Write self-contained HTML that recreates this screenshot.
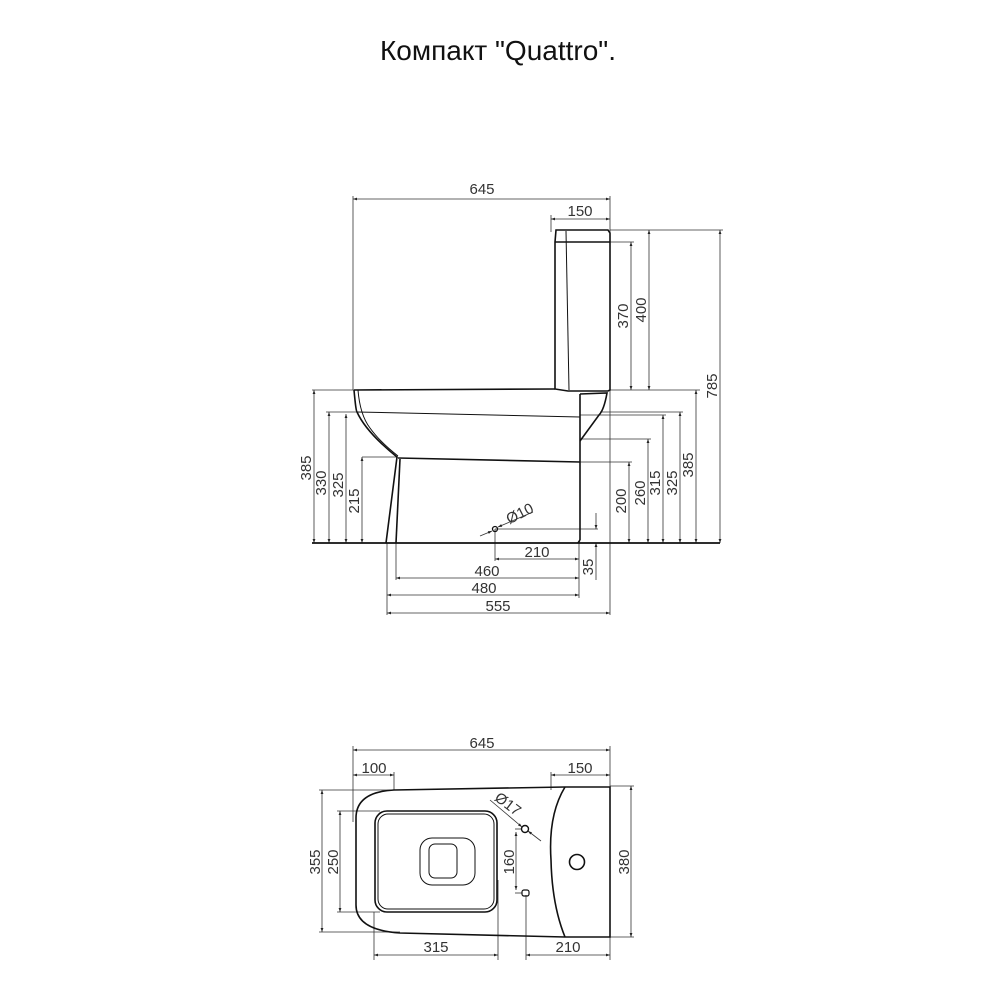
<!DOCTYPE html>
<html><head><meta charset="utf-8"><style>
html,body{margin:0;padding:0;background:#fff;}
svg{display:block;}
.t{font-family:"Liberation Sans",sans-serif;font-size:15px;fill:#333;}
.d{stroke:#333;stroke-width:0.8;fill:none;}
.o{stroke:#111;stroke-width:1.6;fill:none;}
.o2{stroke:#111;stroke-width:1;fill:none;}
</style></head><body>
<svg width="1000" height="1000" viewBox="0 0 1000 1000" xmlns="http://www.w3.org/2000/svg">
<defs>
<marker id="a" viewBox="0 0 10 10" refX="10" refY="5" markerWidth="7" markerHeight="5" orient="auto-start-reverse"><path d="M0,1.5 L10,5 L0,8.5z" fill="#222"/></marker>
</defs>
<text x="498" y="60" text-anchor="middle" style="font-family:'Liberation Sans',sans-serif;font-size:28px;fill:#111">Компакт "Quattro".</text>

<!-- SIDE VIEW -->
<g class="d">
<line x1="353" y1="199" x2="610" y2="199" marker-start="url(#a)" marker-end="url(#a)"/>
<line x1="353" y1="196" x2="353" y2="390"/>
<line x1="610" y1="196" x2="610" y2="615"/>
<line x1="551" y1="219" x2="610" y2="219" marker-start="url(#a)" marker-end="url(#a)"/>
<line x1="551" y1="215" x2="551" y2="232"/>
<line x1="610" y1="230" x2="723" y2="230"/>
<line x1="610" y1="242" x2="634" y2="242"/>
<line x1="631" y1="242" x2="631" y2="390" marker-start="url(#a)" marker-end="url(#a)"/>
<line x1="649" y1="230" x2="649" y2="390" marker-start="url(#a)" marker-end="url(#a)"/>
<line x1="720" y1="230" x2="720" y2="543" marker-start="url(#a)" marker-end="url(#a)"/>
<line x1="610" y1="390" x2="700" y2="390"/>
<line x1="696" y1="390" x2="696" y2="543" marker-start="url(#a)" marker-end="url(#a)"/>
<line x1="600" y1="412" x2="683" y2="412"/>
<line x1="680" y1="412" x2="680" y2="543" marker-start="url(#a)" marker-end="url(#a)"/>
<line x1="580" y1="415" x2="666" y2="415"/>
<line x1="663" y1="415" x2="663" y2="543" marker-start="url(#a)" marker-end="url(#a)"/>
<line x1="582" y1="439" x2="651" y2="439"/>
<line x1="648" y1="439" x2="648" y2="543" marker-start="url(#a)" marker-end="url(#a)"/>
<line x1="580" y1="462" x2="632" y2="462"/>
<line x1="629" y1="462" x2="629" y2="543" marker-start="url(#a)" marker-end="url(#a)"/>
<line x1="312" y1="390" x2="355" y2="390"/>
<line x1="314" y1="390" x2="314" y2="543" marker-start="url(#a)" marker-end="url(#a)"/>
<line x1="326" y1="412" x2="357" y2="412"/>
<line x1="329" y1="412" x2="329" y2="543" marker-start="url(#a)" marker-end="url(#a)"/>
<line x1="346" y1="414" x2="346" y2="543" marker-start="url(#a)" marker-end="url(#a)"/>
<line x1="362" y1="457" x2="398" y2="457"/>
<line x1="362" y1="457" x2="362" y2="543" marker-start="url(#a)" marker-end="url(#a)"/>
<line x1="387" y1="543" x2="387" y2="615"/>
<line x1="396" y1="543" x2="396" y2="580"/>
<line x1="579" y1="543" x2="579" y2="598"/>
<line x1="495" y1="529" x2="495" y2="561"/>
<line x1="495" y1="529" x2="598" y2="529"/>
<line x1="387" y1="613" x2="610" y2="613" marker-start="url(#a)" marker-end="url(#a)"/>
<line x1="387" y1="595" x2="579" y2="595" marker-start="url(#a)" marker-end="url(#a)"/>
<line x1="396" y1="578" x2="579" y2="578" marker-start="url(#a)" marker-end="url(#a)"/>
<line x1="495" y1="559" x2="579" y2="559" marker-start="url(#a)" marker-end="url(#a)"/>
<line x1="596" y1="513" x2="596" y2="529" marker-end="url(#a)"/>
<line x1="596" y1="580" x2="596" y2="543" marker-end="url(#a)"/>
<line x1="480" y1="536" x2="492" y2="531" marker-end="url(#a)"/>
<line x1="533" y1="512" x2="498" y2="527" marker-end="url(#a)"/>
</g>
<line x1="312" y1="543" x2="720" y2="543" stroke="#111" stroke-width="1.8"/>
<g class="o">
<path d="M556,230 L608,230 L610,233 L610,390 L608,391 Q580,391 580,391 L568,391 L555,389 L555,242 Z"/>
<line x1="555" y1="242" x2="610" y2="242"/>
<path d="M354,390 L555,389"/>
<path d="M354,390 Q356,412 357,412 Q366,432 397,457 L386,543"/>
<path d="M580,394 L607,393 Q604,410 599,415 L580,441"/>
<line x1="580" y1="394" x2="580" y2="540"/>
<path d="M580,540 L578,543"/>
<path d="M398,458 L580,462"/>
<path d="M400,459 L396,543"/>
</g>
<g class="o2">
<line x1="566" y1="231" x2="569" y2="390"/>
<line x1="357" y1="412" x2="580" y2="417"/>
<path d="M358,390 Q360,415 370,428 Q380,442 398,456"/>
</g>
<circle cx="495" cy="529" r="2.5" fill="none" stroke="#111" stroke-width="1.3"/>
<g class="t">
<text x="482" y="194" text-anchor="middle">645</text>
<text x="580" y="216" text-anchor="middle">150</text>
<text transform="translate(628,316) rotate(-90)" text-anchor="middle">370</text>
<text transform="translate(646,310) rotate(-90)" text-anchor="middle">400</text>
<text transform="translate(717,386) rotate(-90)" text-anchor="middle">785</text>
<text transform="translate(693,465) rotate(-90)" text-anchor="middle">385</text>
<text transform="translate(677,483) rotate(-90)" text-anchor="middle">325</text>
<text transform="translate(660,483) rotate(-90)" text-anchor="middle">315</text>
<text transform="translate(645,493) rotate(-90)" text-anchor="middle">260</text>
<text transform="translate(626,501) rotate(-90)" text-anchor="middle">200</text>
<text transform="translate(311,468) rotate(-90)" text-anchor="middle">385</text>
<text transform="translate(326,483) rotate(-90)" text-anchor="middle">330</text>
<text transform="translate(343,485) rotate(-90)" text-anchor="middle">325</text>
<text transform="translate(359,501) rotate(-90)" text-anchor="middle">215</text>
<text transform="translate(593,567) rotate(-90)" text-anchor="middle">35</text>
<text x="537" y="557" text-anchor="middle">210</text>
<text x="487" y="576" text-anchor="middle">460</text>
<text x="484" y="593" text-anchor="middle">480</text>
<text x="498" y="611" text-anchor="middle">555</text>
<text transform="translate(522,518) rotate(-27)" text-anchor="middle">Ø10</text>
</g>

<!-- TOP VIEW -->
<g class="d">
<line x1="353" y1="750" x2="610" y2="750" marker-start="url(#a)" marker-end="url(#a)"/>
<line x1="353" y1="746" x2="353" y2="822"/>
<line x1="610" y1="746" x2="610" y2="790"/>
<line x1="353" y1="775" x2="394" y2="775" marker-start="url(#a)" marker-end="url(#a)"/>
<line x1="394" y1="772" x2="394" y2="790"/>
<line x1="551" y1="775" x2="610" y2="775" marker-start="url(#a)" marker-end="url(#a)"/>
<line x1="551" y1="772" x2="551" y2="790"/>
<line x1="319" y1="790" x2="394" y2="790"/>
<line x1="319" y1="932" x2="400" y2="932"/>
<line x1="322" y1="790" x2="322" y2="932" marker-start="url(#a)" marker-end="url(#a)"/>
<line x1="337" y1="811" x2="380" y2="811"/>
<line x1="337" y1="912" x2="380" y2="912"/>
<line x1="340" y1="811" x2="340" y2="912" marker-start="url(#a)" marker-end="url(#a)"/>
<line x1="610" y1="786" x2="634" y2="786"/>
<line x1="610" y1="937" x2="634" y2="937"/>
<line x1="631" y1="786" x2="631" y2="937" marker-start="url(#a)" marker-end="url(#a)"/>
<line x1="374" y1="912" x2="374" y2="960"/>
<line x1="498" y1="880" x2="498" y2="960"/>
<line x1="374" y1="955" x2="498" y2="955" marker-start="url(#a)" marker-end="url(#a)"/>
<line x1="526" y1="895" x2="526" y2="960"/>
<line x1="610" y1="937" x2="610" y2="960"/>
<line x1="526" y1="955" x2="610" y2="955" marker-start="url(#a)" marker-end="url(#a)"/>
<line x1="515" y1="829" x2="522" y2="829"/>
<line x1="515" y1="893" x2="522" y2="893"/>
<line x1="516" y1="832" x2="516" y2="890" marker-start="url(#a)" marker-end="url(#a)"/>
<line x1="490" y1="800" x2="522" y2="827" marker-end="url(#a)"/>
<line x1="541" y1="841" x2="528" y2="831" marker-end="url(#a)"/>
</g>
<g class="o">
<path d="M394,790 L565,787 L610,787 L610,937 L565,937 L400,933 Q356,930 356,905 L356,818 Q356,792 394,790 Z"/>
<path d="M565,787 Q548,815 551,860 Q552,905 565,937"/>
<rect x="375" y="811" width="122" height="101" rx="12"/>
<rect x="420" y="838" width="55" height="47" rx="12" stroke-width="1"/>
<rect x="429" y="844" width="28" height="34" rx="6" stroke-width="1"/>
</g>
<rect x="378" y="814" width="116" height="95" rx="10" class="o2"/>
<circle cx="525" cy="829" r="3.5" fill="none" stroke="#111" stroke-width="1.4"/>
<rect x="522" y="890" width="7" height="6" rx="2" fill="none" stroke="#111" stroke-width="1.2"/>
<circle cx="577" cy="862" r="7.5" fill="none" stroke="#111" stroke-width="1.6"/>
<g class="t">
<text x="482" y="748" text-anchor="middle">645</text>
<text x="374" y="773" text-anchor="middle">100</text>
<text x="580" y="773" text-anchor="middle">150</text>
<text transform="translate(320,862) rotate(-90)" text-anchor="middle">355</text>
<text transform="translate(338,862) rotate(-90)" text-anchor="middle">250</text>
<text transform="translate(514,862) rotate(-90)" text-anchor="middle">160</text>
<text transform="translate(629,862) rotate(-90)" text-anchor="middle">380</text>
<text x="436" y="952" text-anchor="middle">315</text>
<text x="568" y="952" text-anchor="middle">210</text>
<text transform="translate(505,808) rotate(37)" text-anchor="middle">Ø17</text>
</g>
</svg>
</body></html>
